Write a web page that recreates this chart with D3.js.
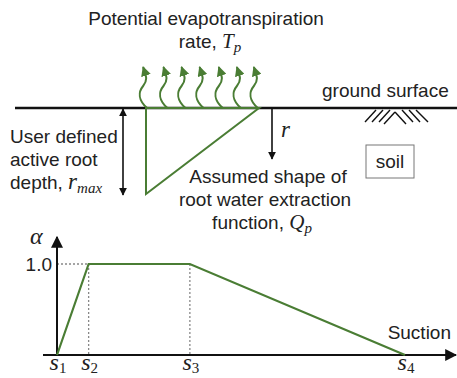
<!DOCTYPE html>
<meta charset="utf-8">
<style type="text/css">
body { margin: 0; background: #fff; }
text {
    font-family: "Liberation Sans", Arial, sans-serif;
    font-size: 19px;
    fill: #222;
  }
.math { font-family: "Liberation Serif", "DejaVu Serif", serif; font-style: italic; }
.digit { font-family: "Liberation Serif", "DejaVu Serif", serif; font-style: normal; }
</style>
<body>
<div class="figure"></div>
</body>

<script src="https://d3js.org/d3.v7.min.js"></script>

<script>

var width = 457,
    height = 378;

// --- data ---
// alpha-suction curve (Feddes type)
var suctionNames = ["1", "2", "3", "4"];   // subscripts of s
var suction = [0, 1, 4.2, 11];
var alpha = [0, 1, 1, 0];
var alphaTicks = [1.0];

// root water extraction, relative depth r/rmax vs relative Qp
var rootDepth = [0, 0, 1];
var rootQp = [0, 1, 0];

// positions of evapotranspiration arrows along the root zone (0..1)
var evapPos = [0.01, 0.19, 0.35, 0.51, 0.68, 0.84, 0.99];

var green = "#4a7d34";

var svg = d3.select(".figure")
  .append("svg")
    .attr("width", width)
    .attr("height", height);

var defs = svg.append("defs");

function marker(id, color, w, h) {
  defs.append("marker")
      .attr("id", id)
      .attr("viewBox", "0 -5 10 10")
      .attr("refX", 9)
      .attr("refY", 0)
      .attr("markerUnits", "userSpaceOnUse")
      .attr("markerWidth", w)
      .attr("markerHeight", h)
      .attr("orient", "auto-start-reverse")
    .append("path")
      .attr("d", "M0,-5L10,0L0,5Z")
      .attr("fill", color);
}
marker("axisHead", "#111", 12, 12);
marker("smallHead", "#111", 8, 8);
marker("greenHead", green, 10, 10);

// ---------- top part: ground + root zone ----------
var groundY = 108;

var qScale = d3.scaleLinear().domain([0, 1]).range([146, 259]);
var rScale = d3.scaleLinear().domain([0, 1]).range([groundY, 194]);

// ground line
svg.append("line")
    .attr("x1", 15).attr("x2", width)
    .attr("y1", groundY).attr("y2", groundY)
    .attr("stroke", "#111")
    .attr("stroke-width", 2.5);

// root extraction triangle
var tri = d3.line()
    .x(function(d, i) { return qScale(rootQp[i]); })
    .y(function(d) { return rScale(d); });

svg.append("path")
    .attr("d", tri(rootDepth) + "Z")
    .attr("fill", "none")
    .attr("stroke", green)
    .attr("stroke-width", 2)
    .attr("stroke-linejoin", "miter");

// wavy evapotranspiration arrows
svg.selectAll(".evap")
    .data(evapPos)
  .enter().append("path")
    .attr("class", "evap")
    .attr("d", function(d) {
      var x = qScale(d), y = groundY;
      return "M" + x + "," + y +
        " C" + (x - 9) + "," + (y - 8) + " " + (x - 9) + "," + (y - 16) + " " + (x - 4) + "," + (y - 22) +
        " S" + (x - 1) + "," + (y - 32) + " " + (x - 4) + "," + (y - 41);
    })
    .attr("fill", "none")
    .attr("stroke", green)
    .attr("stroke-width", 2)
    .attr("marker-end", "url(#greenHead)");

// rmax double arrow
svg.append("line")
    .attr("x1", 123).attr("x2", 123)
    .attr("y1", groundY + 1).attr("y2", rScale(1) + 1)
    .attr("stroke", "#111").attr("stroke-width", 1.6)
    .attr("marker-start", "url(#smallHead)")
    .attr("marker-end", "url(#smallHead)");

// r arrow
svg.append("line")
    .attr("x1", 272).attr("x2", 272)
    .attr("y1", groundY).attr("y2", 159)
    .attr("stroke", "#111").attr("stroke-width", 1.6)
    .attr("marker-end", "url(#smallHead)");

// soil hatch symbol
var hatch = [
  [365, 122, 376, 110], [372, 122, 383, 110], [379, 122, 390, 110],
  [384, 124, 395, 112], [395, 112, 406, 124],
  [402, 110, 413, 122], [409, 110, 420, 122], [416, 110, 428, 122]
];
svg.selectAll(".hatch")
    .data(hatch)
  .enter().append("line")
    .attr("x1", function(d) { return d[0]; })
    .attr("y1", function(d) { return d[1]; })
    .attr("x2", function(d) { return d[2]; })
    .attr("y2", function(d) { return d[3]; })
    .attr("stroke", "#111").attr("stroke-width", 1.4);

// soil box
svg.append("rect")
    .attr("x", 366).attr("y", 145)
    .attr("width", 48).attr("height", 33)
    .attr("fill", "none")
    .attr("stroke", "#777").attr("stroke-width", 1);
svg.append("text").attr("x", 390).attr("y", 168)
    .attr("text-anchor", "middle").text("soil");

// labels with math parts
function label(x, y, anchor, parts, mathSize) {
  var t = svg.append("text").attr("x", x).attr("y", y).attr("text-anchor", anchor);
  parts.forEach(function(p) {
    var s = t.append("tspan").text(p.t);
    if (p.m) s.attr("class", "math").attr("font-size", (mathSize || 21) + "px");
    if (p.sub) s.attr("class", p.num ? "digit" : "math").attr("font-size", "15px").attr("dy", p.dy || 4);
  });
  return t;
}

label(206, 25, "middle", [{t: "Potential evapotranspiration"}]);
label(210, 48, "middle", [{t: "rate, "}, {t: "T", m: 1}, {t: "p", sub: 1}]);
label(322, 97, "start", [{t: "ground surface"}]);
label(10, 143, "start", [{t: "User defined"}]);
label(10, 166, "start", [{t: "active root"}]);
label(10, 189, "start", [{t: "depth, "}, {t: "r", m: 1}, {t: "max", sub: 1}], 23);
label(281, 137, "start", [{t: "r", m: 1}], 23);
label(268, 183, "middle", [{t: "Assumed shape of"}]);
label(265, 206, "middle", [{t: "root water extraction"}]);
label(262, 229, "middle", [{t: "function, "}, {t: "Q", m: 1}, {t: "p", sub: 1}]);

// ---------- bottom part: alpha vs suction ----------
var x = d3.scaleLinear().domain([0, 11]).range([57, 405]);
var y = d3.scaleLinear().domain([0, 1]).range([355, 264]);

// dotted guides
svg.append("line")
    .attr("x1", x(0)).attr("x2", x(suction[1]))
    .attr("y1", y(1)).attr("y2", y(1))
    .attr("stroke", "#888").attr("stroke-width", 1.3)
    .attr("stroke-dasharray", "2,2");
svg.selectAll(".guide")
    .data([suction[1], suction[2]])
  .enter().append("line")
    .attr("x1", function(d) { return x(d); })
    .attr("x2", function(d) { return x(d); })
    .attr("y1", y(1)).attr("y2", y(0))
    .attr("stroke", "#888").attr("stroke-width", 1.3)
    .attr("stroke-dasharray", "2,2");

// axes
svg.append("line")
    .attr("x1", 43).attr("x2", width - 1)
    .attr("y1", y(0)).attr("y2", y(0))
    .attr("stroke", "#111").attr("stroke-width", 2)
    .attr("marker-end", "url(#axisHead)");
svg.append("line")
    .attr("x1", x(0)).attr("x2", x(0))
    .attr("y1", y(0) + 1).attr("y2", 237)
    .attr("stroke", "#111").attr("stroke-width", 2)
    .attr("marker-end", "url(#axisHead)");

// y tick label
var yAxis = d3.axisLeft(y)
    .tickValues(alphaTicks)
    .tickSize(0)
    .tickPadding(5)
    .tickFormat(d3.format(".1f"));
var gy = svg.append("g")
    .attr("transform", "translate(" + x(0) + ",0)")
    .call(yAxis);
gy.select(".domain").remove();
gy.selectAll("text")
    .attr("font-family", "Liberation Sans, Arial, sans-serif")
    .attr("font-size", "19px")
    .attr("fill", "#222");

// alpha curve
var curve = d3.line()
    .x(function(d) { return x(d); })
    .y(function(d, i) { return y(alpha[i]); });

svg.append("path")
    .attr("d", curve(suction))
    .attr("fill", "none")
    .attr("stroke", green)
    .attr("stroke-width", 2.2);

// s labels
suction.forEach(function(d, i) {
  label(x(d) + 1, 370, "middle",
    [{t: "s", m: 1}, {t: suctionNames[i], sub: 1, num: 1, dy: 3}], 24);
});

label(30, 244, "start", [{t: "α", m: 1}], 24);
label(451, 339, "end", [{t: "Suction"}]);

</script>
